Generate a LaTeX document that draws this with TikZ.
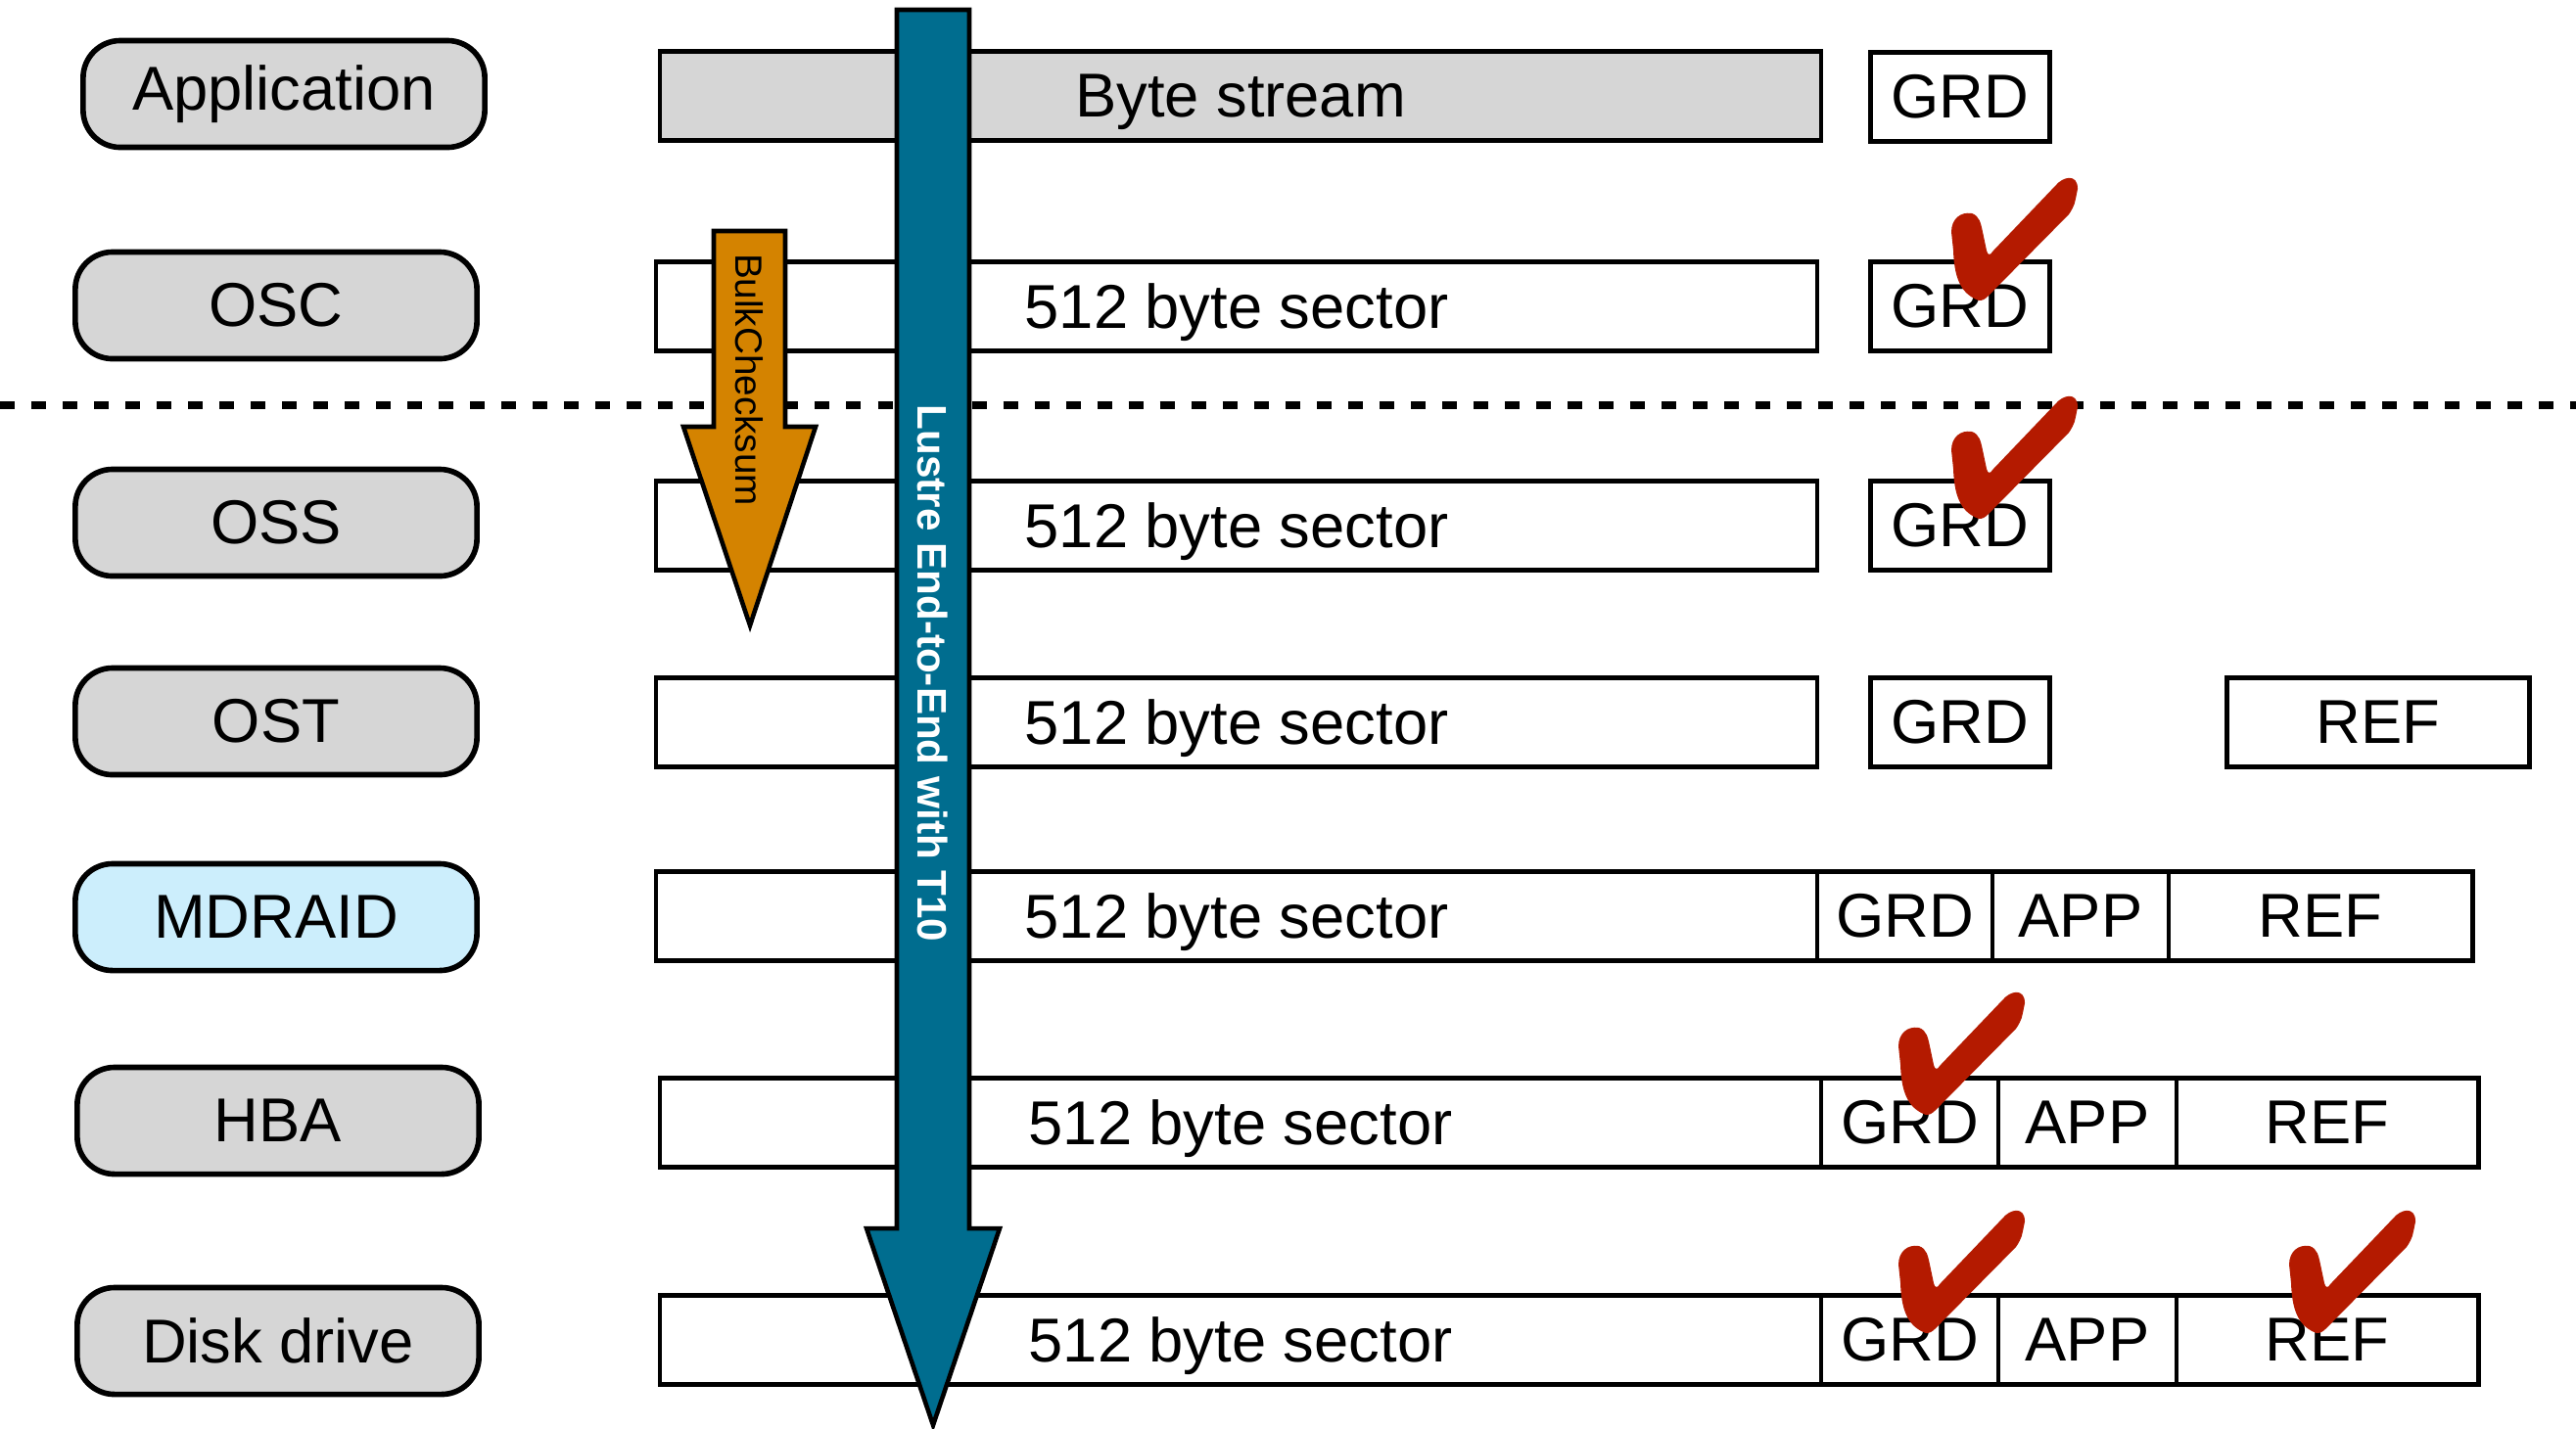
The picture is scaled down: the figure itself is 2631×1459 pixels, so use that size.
\documentclass[tikz,border=0pt]{standalone}
\usepackage{fontspec}
\setmainfont{Liberation Sans}
\usetikzlibrary{positioning}
\definecolor{layergray}{RGB}{214,214,214}
\definecolor{raidblue}{RGB}{204,238,252}
\definecolor{lustreblue}{RGB}{0,109,143}
\definecolor{bulkorange}{RGB}{212,131,0}
\definecolor{tickred}{RGB}{180,26,0}
\tikzset{
  layer/.style={draw, line width=1.6pt, fill=layergray, rounded corners=0.38cm,
    minimum width=4.1cm, minimum height=1.09cm, inner sep=0pt, outer sep=0pt,
    font=\fontsize{18}{20}\selectfont},
  sector/.style={draw, line width=1.3pt, minimum width=11.85cm, minimum height=0.91cm,
    inner sep=0pt, outer sep=0pt, text depth=0pt, font=\fontsize{18}{20}\selectfont},
  field/.style={draw, line width=1.3pt, minimum height=0.91cm,
    inner sep=0pt, outer sep=0pt, font=\fontsize{18}{20}\selectfont},
  bigarrow/.style={draw=black, line width=1.3pt},
  tick/.pic={
    \fill[tickred] (29,127) .. controls (13,121) and (4,108) .. (3,76) -- (1,57)
      .. controls (1,44) and (10,36) .. (22,38) .. controls (30,41) and (31,48) .. (33,57)
      -- (37,76) .. controls (38,81) and (41,81) .. (43,77) -- (107,10)
      .. controls (115,0) and (130,-3) .. (130,13) -- (128,23)
      .. controls (127,30) and (123,36) .. (121,39) -- (39,122)
      .. controls (35,126) and (33,127) .. cycle;
  }
}
\begin{document}
\begin{tikzpicture}[x=0.01cm, y=-0.01cm]
    \useasboundingbox (0,0) rectangle (2631,1459);
    % Capas
    \node[layer] (app) at (290,96) {Application};
    \node[layer] (osc) at (282,312) {OSC};
    \node[layer] (oss) at (282,534) {OSS};
    \node[layer] (ost) at (282,737) {OST};
    \node[layer, fill=raidblue] (mdraid) at (282,937) {MDRAID};
    \node[layer] (hba) at (284,1145) {HBA};
    \node[layer] (disk) at (284,1370) {Disk drive};
    % Separador cliente / servidor
    \draw[line width=2.3pt, dash pattern=on 0.15cm off 0.17cm] (0,414) -- (2631,414);
    % Sectores
    \node[sector, fill=layergray] (appbar) at (1267,98) {Byte stream};
    \node[sector] (oscbar) at (1263,313) {512 byte sector};
    \node[sector] (ossbar) at (1263,537) {512 byte sector};
    \node[sector] (ostbar) at (1263,738) {512 byte sector};
    \node[sector] (raidbar) at (1263,936) {512 byte sector};
    \node[sector] (hbabar) at (1267,1147) {512 byte sector};
    \node[sector] (diskbar) at (1267,1369) {512 byte sector};
    % Campos de proteccion
    \node[field, minimum width=1.83cm] (appgrd) at (2002,99) {GRD};
    \node[field, minimum width=1.83cm] (oscgrd) at (2002,313) {GRD};
    \node[field, minimum width=1.83cm] (ossgrd) at (2002,537) {GRD};
    \node[field, minimum width=1.83cm] (ostgrd) at (2002,738) {GRD};
    \node[field, minimum width=3.09cm] (ostref) at (2429,738) {REF};
    \node[field, minimum width=1.79cm, right=0pt of raidbar] (raidgrd) {GRD};
    \node[field, minimum width=1.80cm, right=0pt of raidgrd] (raidapp) {APP};
    \node[field, minimum width=3.10cm, right=0pt of raidapp] (raidref) {REF};
    \node[field, minimum width=1.81cm, right=0pt of hbabar] (hbagrd) {GRD};
    \node[field, minimum width=1.82cm, right=0pt of hbagrd] (hbaapp) {APP};
    \node[field, minimum width=3.08cm, right=0pt of hbaapp] (hbaref) {REF};
    \node[field, minimum width=1.81cm, right=0pt of diskbar] (diskgrd) {GRD};
    \node[field, minimum width=1.82cm, right=0pt of diskgrd] (diskapp) {APP};
    \node[field, minimum width=3.08cm, right=0pt of diskapp] (diskref) {REF};
    % Flechas
    \filldraw[bigarrow, fill=bulkorange] (729,236) -- (802,236) -- (802,436) -- (833,436)
        -- (766,639) -- (698,436) -- (729,436) -- cycle;
    \node[rotate=-90, font=\fontsize{11}{13}\selectfont] (bulk) at (765,388) {BulkChecksum};
    \filldraw[bigarrow, fill=lustreblue] (916,10) -- (990,10) -- (990,1255) -- (1021,1255)
        -- (953,1456) -- (885,1255) -- (916,1255) -- cycle;
    \node[rotate=-90, text=white, font=\bfseries\fontsize{12}{14}\selectfont] (lustre) at (953,688)
        {Lustre End-to-End with T10};
    % Marcas de verificacion
    \pic at (1992,180) {tick};
    \pic at (1992,403) {tick};
    \pic at (1938,1012) {tick};
    \pic at (1938,1235) {tick};
    \pic at (2337,1235) {tick};
\end{tikzpicture}
\end{document}
